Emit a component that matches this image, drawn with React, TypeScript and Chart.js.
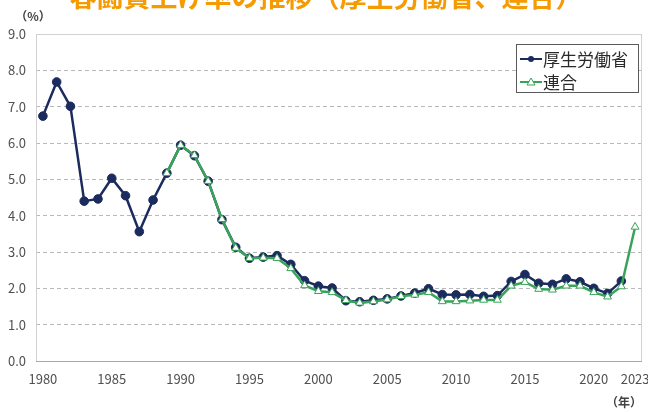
import React, { useEffect, useRef } from "react";
import { Chart, registerables } from "chart.js";

Chart.register(...registerables);

const years = [
  "1980", "1981", "1982", "1983", "1984", "1985", "1986", "1987", "1988", "1989",
  "1990", "1991", "1992", "1993", "1994", "1995", "1996", "1997", "1998", "1999",
  "2000", "2001", "2002", "2003", "2004", "2005", "2006", "2007", "2008", "2009",
  "2010", "2011", "2012", "2013", "2014", "2015", "2016", "2017", "2018", "2019",
  "2020", "2021", "2022", "2023",
];

const shownYearLabels = ["1980", "1985", "1990", "1995", "2000", "2005", "2010", "2015", "2020", "2023"];

const mhlwValues = [
  6.74, 7.68, 7.01, 4.40, 4.46, 5.03, 4.55, 3.56, 4.43, 5.17,
  5.94, 5.65, 4.95, 3.89, 3.13, 2.83, 2.86, 2.90, 2.66, 2.21,
  2.06, 2.01, 1.66, 1.63, 1.67, 1.71, 1.79, 1.87, 1.99, 1.83,
  1.82, 1.83, 1.78, 1.80, 2.19, 2.38, 2.14, 2.11, 2.26, 2.18,
  2.00, 1.86, 2.20, null,
];

const rengoValues = [
  null, null, null, null, null, null, null, null, null, 5.17,
  5.94, 5.66, 4.95, 3.90, 3.11, 2.83, 2.84, 2.83, 2.55, 2.08,
  1.92, 1.89, 1.67, 1.60, 1.64, 1.69, 1.78, 1.82, 1.89, 1.64,
  1.64, 1.66, 1.68, 1.68, 2.07, 2.17, 1.98, 1.96, 2.07, 2.07,
  1.89, 1.77, 2.05, 3.69,
];

const seriesNames = ["厚生労働省", "連合"];
const titleText = "春闘賃上げ率の推移（厚生労働省、連合）";
const yUnitText = "（%）";
const xUnitText = "（年）";

const NAVY = "#1b2b5e";
const GREEN = "#3aa35a";
const FONT = "'Noto Sans CJK JP', 'Noto Sans', sans-serif";

const decoPlugin = {
  id: "deco",
  beforeDraw(chart: any) {
    const ctx = chart.ctx;
    ctx.save();
    ctx.fillStyle = "#ffffff";
    ctx.fillRect(0, 0, chart.width, chart.height);
    ctx.restore();
  },
  beforeDatasetsDraw(chart: any) {
    const ctx = chart.ctx;
    const { left, right, top, bottom } = chart.chartArea;
    ctx.save();
    ctx.strokeStyle = "#d2d2d2";
    ctx.lineWidth = 1;
    ctx.strokeRect(left + 0.5, top + 0.5, right - left - 1, bottom - top);
    ctx.strokeStyle = "#a8a8a8";
    ctx.beginPath();
    ctx.moveTo(left, bottom + 0.5);
    ctx.lineTo(right, bottom + 0.5);
    ctx.stroke();
    ctx.restore();
  },
  afterDraw(chart: any) {
    const ctx = chart.ctx;
    const { right, top, bottom } = chart.chartArea;
    ctx.save();
    // title (cut off at top)
    ctx.fillStyle = "#f59a00";
    ctx.font = `bold 27px ${FONT}`;
    ctx.textAlign = "center";
    ctx.textBaseline = "middle";
    ctx.fillText(titleText, 326, -3);

    // unit labels
    ctx.fillStyle = "#404040";
    ctx.font = `bold 12px ${FONT}`;
    ctx.textAlign = "center";
    ctx.fillText(yUnitText, 33, 16);
    ctx.fillText(xUnitText, 624, bottom + 41);

    // legend
    const bw = 122;
    const bh = 48;
    const bx = right - 4 - bw;
    const by = top + 10;
    ctx.fillStyle = "#ffffff";
    ctx.fillRect(bx, by, bw, bh);
    ctx.strokeStyle = "#5a5a5a";
    ctx.lineWidth = 1;
    ctx.strokeRect(bx + 0.5, by + 0.5, bw, bh);
    const rows = [by + 15, by + 38];
    const colors = [NAVY, GREEN];
    chart.data.datasets.forEach((ds: any, i: number) => {
      const y = rows[i];
      ctx.strokeStyle = colors[i];
      ctx.lineWidth = 2;
      ctx.beginPath();
      ctx.moveTo(bx + 4, y);
      ctx.lineTo(bx + 26, y);
      ctx.stroke();
      const cx = bx + 15;
      if (i === 0) {
        ctx.fillStyle = NAVY;
        ctx.beginPath();
        ctx.arc(cx, y, 3, 0, Math.PI * 2);
        ctx.fill();
      } else {
        ctx.fillStyle = "#ffffff";
        ctx.strokeStyle = GREEN;
        ctx.lineWidth = 1;
        ctx.beginPath();
        ctx.moveTo(cx, y - 4);
        ctx.lineTo(cx + 4, y + 3);
        ctx.lineTo(cx - 4, y + 3);
        ctx.closePath();
        ctx.fill();
        ctx.stroke();
      }
      ctx.fillStyle = "#2a2a2a";
      ctx.font = `17px ${FONT}`;
      ctx.textAlign = "left";
      ctx.textBaseline = "middle";
      ctx.fillText(ds.label, bx + 27, y + 1);
    });
    ctx.restore();
  },
};

export default function App() {
  const canvasRef = useRef<HTMLCanvasElement | null>(null);

  useEffect(() => {
    document.body.style.margin = "0";
    const canvas = canvasRef.current;
    if (!canvas) return;
    const chart = new Chart(canvas, {
      type: "line",
      data: {
        labels: years,
        datasets: [
          {
            label: seriesNames[0],
            data: mhlwValues,
            borderColor: NAVY,
            backgroundColor: NAVY,
            borderWidth: 2.5,
            pointRadius: 4.3,
            pointStyle: "circle",
            pointBackgroundColor: NAVY,
            pointBorderColor: NAVY,
            pointBorderWidth: 1,
            spanGaps: false,
            order: 2,
          },
          {
            label: seriesNames[1],
            data: rengoValues,
            borderColor: GREEN,
            backgroundColor: "#ffffff",
            borderWidth: 2.5,
            pointRadius: 4.5,
            pointStyle: "triangle",
            pointBackgroundColor: "#ffffff",
            pointBorderColor: GREEN,
            pointBorderWidth: 1,
            spanGaps: false,
            order: 1,
          },
        ],
      },
      options: {
        responsive: false,
        animation: false,
        devicePixelRatio: 1,
        layout: { padding: { top: 34, right: 6, left: 0, bottom: 0 } },
        plugins: {
          legend: { display: false },
          title: { display: false },
          tooltip: { enabled: false },
        },
        scales: {
          x: {
            type: "category",
            offset: true,
            grid: { display: false, drawTicks: false },
            border: { display: false },
            ticks: {
              autoSkip: false,
              maxRotation: 0,
              minRotation: 0,
              padding: 10,
              color: "#505050",
              font: { family: FONT, size: 13 },
              callback: function (this: any, value: any) {
                const lab = this.getLabelForValue(value);
                return shownYearLabels.includes(lab) ? lab : "";
              },
            },
            afterFit: (scale: any) => {
              scale.height = 51;
              scale.paddingLeft = 0;
              scale.paddingRight = 0;
            },
          },
          y: {
            min: 0,
            max: 9,
            grid: {
              color: "#b8b8b8",
              drawTicks: false,
            },
            border: { display: false, dash: [4, 3] },
            ticks: {
              stepSize: 1,
              padding: 10,
              color: "#505050",
              font: { family: FONT, size: 13 },
              callback: (v: any) => Number(v).toFixed(1),
            },
            afterFit: (scale: any) => {
              scale.width = 36;
              scale.paddingTop = 0;
              scale.paddingBottom = 0;
            },
          },
        },
      },
      plugins: [decoPlugin],
    });
    return () => chart.destroy();
  }, []);

  return (
    <div style={{ position: "absolute", left: 0, top: 0, width: 648, height: 412 }}>
      <canvas ref={canvasRef} width={648} height={412} style={{ width: 648, height: 412, display: "block" }} />
    </div>
  );
}
